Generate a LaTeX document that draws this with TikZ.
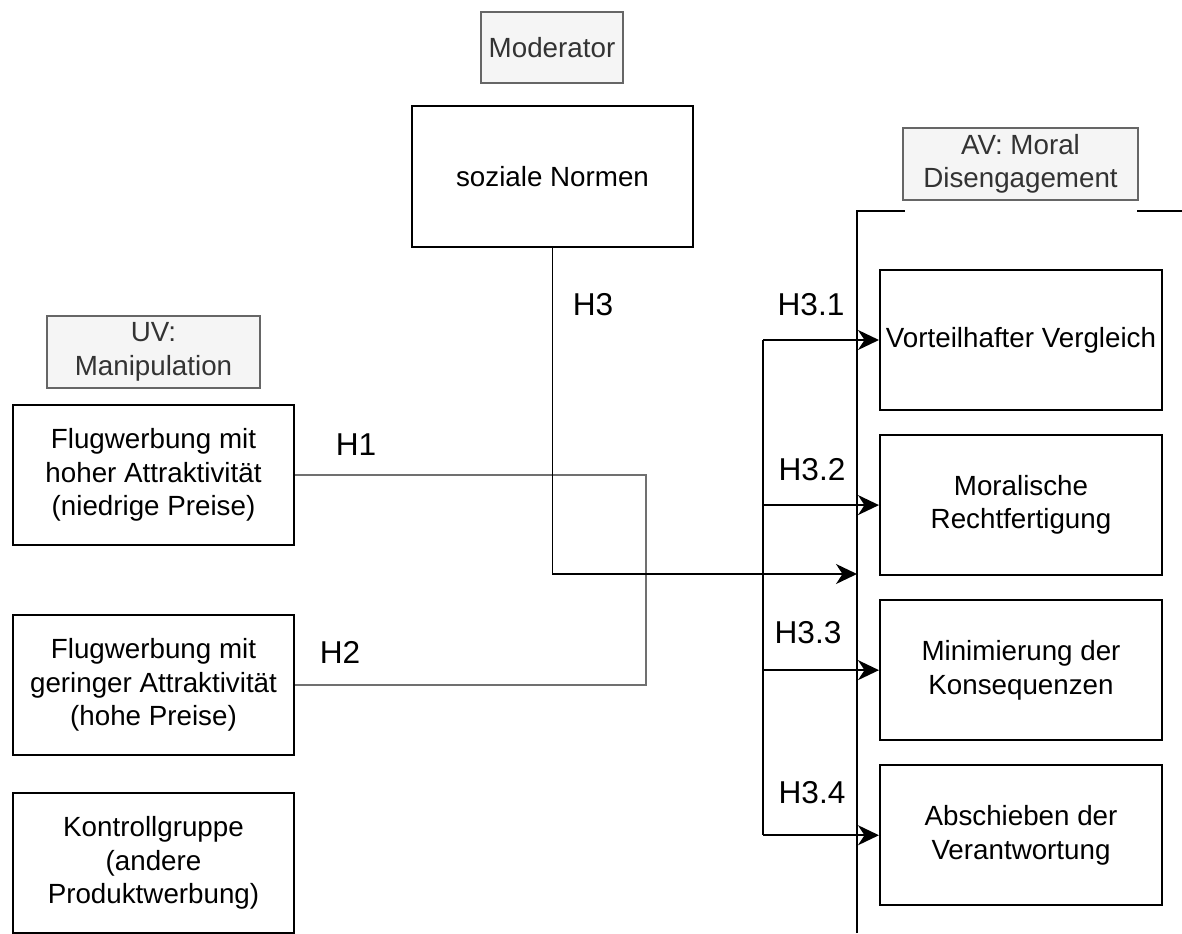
\documentclass[tikz,border=0pt]{standalone}
\usepackage{fontspec}
\setmainfont{Liberation Sans}
\usepackage{tikz}
\usetikzlibrary{arrows.meta,positioning,calc}
\usepackage{xcolor}
\definecolor{kastengrau}{HTML}{F5F5F5}
\definecolor{randgrau}{HTML}{666666}
\definecolor{textgrau}{HTML}{333333}
\definecolor{liniengrau}{HTML}{707070}

\begin{document}
\begin{tikzpicture}[x=0.02cm, y=-0.02cm, node distance=0.46cm and 2.0cm,
  every node/.style={font=\fontsize{15.8}{19}\selectfont}]
\tikzset{var/.style={draw, line width=1.2pt, align=center, minimum width=5.62cm, minimum height=2.8cm, inner sep=1pt}}
\tikzset{titel/.style={draw=randgrau, fill=kastengrau, text=textgrau, line width=1pt, align=center, minimum height=1.43cm, inner sep=1pt}}
\tikzset{hlabel/.style={font=\fontsize{18}{22}\selectfont}}
\tikzset{pfeil/.style={line width=1.1pt, -{Stealth[length=0.42cm, width=0.4cm, inset=0.13cm]}}}
\useasboundingbox (0,0) rectangle (1182,933);
% titles
\node[titel, minimum width=2.84cm] (moder) at (552,47.5) {Moderator};
\node[titel, minimum width=4.26cm] (uv) at (153.5,352) {UV:\\Manipulation};
\node[titel, minimum width=4.7cm] (av) at (1020.5,164) {AV: Moral\\Disengagement};
% moderator
\node[var, minimum height=2.82cm] (normen) at (552.5,176.5) {soziale Normen};
% independent variable
\node[var] (hoch) at (153.5,475) {Flugwerbung mit\\hoher Attraktivit\"at\\(niedrige Preise)};
\node[var] (gering) at (153.5,685) {Flugwerbung mit\\geringer Attraktivit\"at\\(hohe Preise)};
\node[var, below=0.72cm of gering] (kontroll) {Kontrollgruppe\\(andere\\Produktwerbung)};
% dependent variable
\node[var, minimum width=5.64cm] (vorteil) at (1021,340) {Vorteilhafter Vergleich};
\node[var, minimum width=5.64cm, below=0.46cm of vorteil] (recht) {Moralische\\Rechtfertigung};
\node[var, minimum width=5.64cm, below=0.46cm of recht] (minim) {Minimierung der\\Konsequenzen};
\node[var, minimum width=5.64cm, below=0.46cm of minim] (absch) {Abschieben der\\Verantwortung};
% bracket of the AV
\coordinate (avfuss) at (857,933);
\coordinate (avecke) at (857,211);
\coordinate (avli) at (905,211);
\coordinate (avre) at (1137,211);
\coordinate (avende) at (1182,211);
\draw[line width=1.1pt] (avfuss) -- (avecke) -- (avli);
\draw[line width=1.1pt] (avre) -- (avende);
% H1 / H2
\coordinate (knick) at (646,580);
\draw[liniengrau, line width=1.5pt] (hoch.east) -| (knick) |- (gering.east);
% H3
\coordinate (h3ziel) at (857,574);
\draw[pfeil] (normen.south) |- (h3ziel);
% H3.1 - H3.4
\coordinate (bus) at (763,0);
\draw[line width=1.1pt] (vorteil.west -| bus) -- (absch.west -| bus);
\draw[pfeil] (vorteil.west -| bus) -- (vorteil.west);
\draw[pfeil] (recht.west -| bus) -- (recht.west);
\draw[pfeil] (minim.west -| bus) -- (minim.west);
\draw[pfeil] (absch.west -| bus) -- (absch.west);
% labels
\node[hlabel] (lh1) at (356,445) {H1};
\node[hlabel] (lh2) at (340,652) {H2};
\node[hlabel] (lh3) at (593,305) {H3};
\node[hlabel] (lh31) at (811,305) {H3.1};
\node[hlabel] (lh32) at (812,470) {H3.2};
\node[hlabel] (lh33) at (808,633) {H3.3};
\node[hlabel] (lh34) at (812,793) {H3.4};
\end{tikzpicture}
\end{document}
